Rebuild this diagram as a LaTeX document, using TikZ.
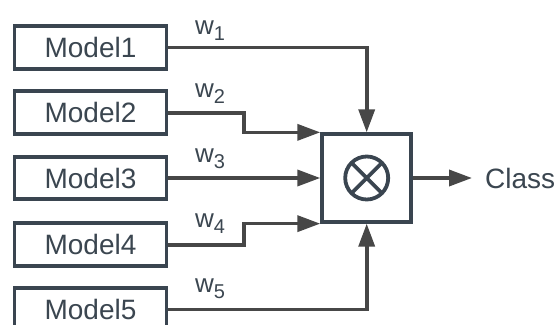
\documentclass[tikz,border=0pt]{standalone}
\usepackage{fontspec}
\setmainfont{Liberation Sans}
\usetikzlibrary{arrows.meta}
\definecolor{boxc}{HTML}{3A4550}
\definecolor{linec}{HTML}{474747}
\definecolor{txtc}{HTML}{3B4650}
\newcommand{\wsub}[1]{w\raisebox{-6pt}{\fontsize{20}{20}\selectfont #1}}
\begin{document}
\begin{tikzpicture}[x=1pt,y=-1pt,
  model/.style={draw=boxc, line width=3.8pt, minimum width=152pt, minimum height=42.7pt,
    inner sep=0pt, text=txtc, font=\fontsize{28}{28}\selectfont},
  mixbox/.style={draw=boxc, line width=3.8pt, minimum width=89pt, minimum height=87.5pt, inner sep=0pt},
  mixsym/.style={circle, draw=boxc, line width=3.8pt, minimum size=43pt, inner sep=0pt, outer sep=0pt},
  conn/.style={draw=linec, line width=3.6pt},
  arr/.style={conn, -{Triangle[length=23pt,width=16pt]}},
  wlab/.style={anchor=base west, inner sep=0pt, text=txtc, font=\fontsize{26}{26}\selectfont},
  outlab/.style={anchor=west, inner xsep=13pt, inner ysep=0pt, text=txtc, font=\fontsize{28}{28}\selectfont}]
\useasboundingbox (0,0) rectangle (559,324);
\node[model] (m1) at (90.5,47.3) {Model1};
\node[model] (m2) at (90.5,112.7) {Model2};
\node[model] (m3) at (90.5,178) {Model3};
\node[model] (m4) at (90.5,244.7) {Model4};
\node[model] (m5) at (90.5,309.3) {Model5};
\node[mixbox] (c) at (366.7,178) {};
\node[mixsym] (x) at (c.center) {};
\draw[boxc, line width=3.8pt] (x.45) -- (x.225) (x.135) -- (x.315);
\node[outlab] (cls) at (472,178) {Class};
\coordinate (k) at (244,0);
\draw[arr] (m1.east) -| (c.north);
\draw[arr] (m2.east) -| (k |- c.north west) -- (c.north west);
\draw[arr] (m3.east) -- (c.west);
\draw[arr] (m4.east) -| (k |- c.south west) -- (c.south west);
\draw[arr] (m5.east) -| (c.south);
\draw[arr] (c.east) -- (cls.west);
\node[wlab] (w1) at (195,34) {\wsub{1}};
\node[wlab] (w2) at (195,97) {\wsub{2}};
\node[wlab] (w3) at (195,162) {\wsub{3}};
\node[wlab] (w4) at (195,227) {\wsub{4}};
\node[wlab] (w5) at (195,292) {\wsub{5}};
\end{tikzpicture}
\end{document}
